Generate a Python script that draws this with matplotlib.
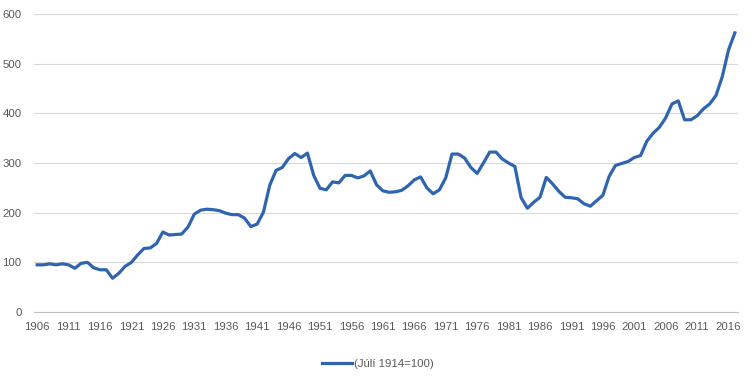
from matplotlib import pyplot as plt
import numpy as np

years = list(range(1906, 2018))
values = [
    95, 95, 97, 95, 97, 95, 88, 98, 100, 89,      # 1906-1915
    85, 85, 68, 78, 92, 100, 115, 128, 129, 138,  # 1916-1925
    161, 155, 156, 157, 171, 197, 205, 207, 206, 204,  # 1926-1935
    199, 196, 196, 189, 172, 177, 201, 255, 285, 291,  # 1936-1945
    309, 319, 311, 320, 275, 249, 246, 262, 260, 275,  # 1946-1955
    275, 270, 274, 284, 256, 244, 241, 242, 245, 254,  # 1956-1965
    266, 272, 250, 238, 246, 270, 318, 318, 310, 291,  # 1966-1975
    279, 300, 322, 322, 308, 300, 293, 230, 209, 221,  # 1976-1985
    231, 271, 258, 243, 231, 230, 228, 218, 213, 224,  # 1986-1995
    235, 273, 295, 299, 303, 311, 315, 344, 360, 372,  # 1996-2005
    391, 419, 425, 387, 387, 395, 409, 419, 436, 474,  # 2006-2015
    528, 562,                                      # 2016-2017
]
label = '(Júlí 1914=100)'

plt.rcParams['font.family'] = ['Liberation Sans', 'DejaVu Sans']

fig = plt.figure(figsize=(7.56, 3.78), dpi=100)
ax = fig.add_axes([34 / 756, 1 - 312 / 378, 704 / 756, 298 / 378])

x = np.arange(len(years))
ax.plot(x, values, color='#2F64AE', linewidth=2.3, label=label,
        solid_joinstyle='round')

ax.set_xlim(-0.5, len(years) - 0.5)
ax.set_ylim(0, 600)
ax.set_yticks(range(0, 601, 100))
ax.set_xticks(x[::5])
ax.set_xticklabels([str(y) for y in years[::5]])
ax.tick_params(axis='both', length=0, labelsize=8.2, colors='#595959')
ax.tick_params(axis='x', pad=7)
ax.tick_params(axis='y', pad=9)

ax.grid(axis='y', color='#D9D9D9', linewidth=0.8)
ax.set_axisbelow(True)
for s in ['top', 'right', 'left']:
    ax.spines[s].set_visible(False)
ax.spines['bottom'].set_color('#BFBFBF')
ax.spines['bottom'].set_linewidth(0.8)

fig.legend(loc='center', bbox_to_anchor=(0.5, 1 - 364 / 378), frameon=False,
           fontsize=8.2, labelcolor='#595959', handlelength=2.6, handletextpad=0.2)

fig.savefig('out.png', dpi=100)
